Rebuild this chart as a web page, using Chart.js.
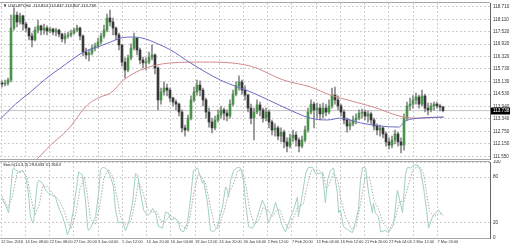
<!DOCTYPE html>
<html>
<head>
<meta charset="utf-8">
<script src="https://cdn.jsdelivr.net/npm/chart.js@4.4.0/dist/chart.umd.min.js"></script>
<style>
  html, body { margin: 0; padding: 0; background: #fff; width: 510px; height: 247px; overflow: hidden; }
  canvas { position: absolute; left: 0; }
  #main { top: 0; }
  #stoch { top: 160px; }
</style>
</head>
<body>
<canvas id="main" width="510" height="160"></canvas>
<canvas id="stoch" width="510" height="87"></canvas>
<script>
// ---- data ----
const symbolTitle = '\u25BC USDJPY,H4  113.824 113.847 113.807 113.738';
const stochTitle = 'Stoch(14,3,3) 29.6433 31.9163';
const timeLabels = ['12 Dec 2016', '14 Dec 08:00', '22 Dec 08:00', '27 Dec 20:00', '3 Jan 04:00',
  '5 Jan 12:00', '10 Jan 20:00', '16 Jan 04:00', '19 Jan 12:00', '24 Jan 20:00', '30 Jan 04:00',
  '2 Feb 12:00', '7 Feb 20:00', '13 Feb 04:00', '16 Feb 12:00', '21 Feb 20:00', '27 Feb 04:00',
  '2 Mar 12:00', '7 Mar 20:00'];
const priceTicks = [118.710, 118.110, 117.520, 116.920, 116.320, 115.730, 115.130,
  114.530, 113.940, 113.340, 112.750, 112.150, 111.550];
const stochTicks = [0, 20, 80, 100];
const lastPrice = 113.738;

const opens = [
  115.06, 115.01, 115.06, 115.20, 117.69, 118.31, 117.98, 118.27, 117.88, 117.69,
  117.31, 117.12, 117.59, 117.79, 117.59, 117.69, 117.55, 117.64, 117.50, 117.59,
  117.40, 117.17, 117.31, 117.36, 117.45, 117.59, 117.69, 117.31, 116.54, 116.40,
  116.49, 116.73, 116.83, 117.02, 117.31, 117.59, 118.17, 117.98, 117.69, 117.36,
  116.88, 116.06, 115.68, 116.26, 116.73, 117.21, 116.64, 116.16, 116.02, 116.06,
  116.30, 116.40, 115.78, 114.25, 114.63, 114.82, 114.72, 114.34, 114.15, 114.05,
  113.67, 112.91, 112.81, 113.38, 114.25, 114.63, 114.96, 114.72, 114.25, 113.67,
  113.19, 112.91, 113.29, 113.53, 113.77, 113.62, 113.48, 114.05, 114.53, 114.92,
  115.11, 114.72, 114.48, 113.86, 113.38, 113.67, 114.01, 113.77, 113.38, 113.67,
  113.19, 112.81, 112.91, 112.52, 112.71, 112.24, 112.04, 112.43, 112.57, 112.33,
  112.04, 112.33, 112.81, 113.67, 114.05, 113.77, 113.86, 113.58, 113.86, 113.67,
  113.96, 114.48, 114.25, 113.96, 113.67, 113.29, 113.00, 113.10, 113.29, 113.38,
  113.62, 113.67, 113.48, 113.58, 113.29, 113.00, 112.81, 112.91, 112.62, 112.24,
  112.09, 112.33, 112.62, 112.24, 112.09, 113.38, 113.96, 114.05, 114.25, 114.39,
  114.05, 114.44, 113.86, 113.77, 113.96, 114.05, 113.96, 113.91];
const highs = [
  115.16, 115.20, 115.30, 118.31, 118.65, 118.46, 118.41, 118.31, 117.98, 117.69,
  117.45, 117.74, 118.07, 117.83, 117.88, 117.79, 117.74, 117.69, 117.69, 117.64,
  117.45, 117.45, 117.50, 117.59, 117.69, 117.83, 117.74, 117.36, 116.73, 116.64,
  116.88, 116.97, 117.21, 117.45, 117.83, 118.36, 118.55, 118.17, 117.74, 117.45,
  116.88, 116.26, 116.40, 116.93, 117.45, 117.21, 116.73, 116.30, 116.26, 116.54,
  116.88, 116.45, 115.83, 114.82, 115.11, 115.01, 114.82, 114.39, 114.25, 114.10,
  113.77, 113.05, 113.53, 114.44, 114.87, 115.20, 115.16, 114.82, 114.34, 113.86,
  113.38, 113.48, 113.77, 113.96, 113.86, 113.77, 114.25, 114.72, 115.11, 115.40,
  115.20, 114.92, 114.53, 114.05, 113.86, 114.25, 114.15, 113.86, 113.86, 113.77,
  113.29, 113.10, 113.00, 112.91, 112.81, 112.43, 112.62, 112.81, 112.71, 112.43,
  112.52, 113.00, 113.86, 114.25, 114.15, 114.10, 114.05, 114.10, 114.05, 114.25,
  114.82, 114.87, 114.44, 114.05, 113.77, 113.38, 113.29, 113.48, 113.58, 113.77,
  113.81, 113.77, 113.72, 113.67, 113.38, 113.10, 113.05, 112.95, 112.71, 112.43,
  112.52, 112.81, 112.71, 112.43, 113.58, 114.15, 114.34, 114.44, 114.58, 114.48,
  114.72, 114.53, 114.10, 114.10, 114.15, 114.15, 114.05, 113.96];
const lows = [
  114.87, 114.92, 114.96, 115.11, 117.59, 117.74, 117.88, 117.59, 117.50, 117.12,
  116.78, 117.07, 117.45, 117.36, 117.40, 117.36, 117.45, 117.36, 117.31, 117.26,
  117.02, 116.97, 117.21, 117.26, 117.40, 117.50, 117.12, 116.35, 116.21, 116.11,
  116.40, 116.59, 116.73, 116.93, 117.21, 117.50, 117.79, 117.36, 117.12, 116.64,
  115.87, 115.30, 115.59, 116.16, 116.64, 116.40, 115.97, 115.78, 115.68, 115.97,
  116.16, 115.49, 113.77, 114.05, 114.48, 114.44, 114.15, 113.96, 113.77, 113.48,
  112.71, 112.52, 112.76, 113.29, 114.15, 114.48, 114.44, 113.96, 113.38, 112.95,
  112.67, 112.81, 113.19, 113.38, 113.29, 113.24, 113.38, 113.96, 114.44, 114.72,
  114.53, 114.25, 113.67, 113.10, 112.33, 113.58, 113.48, 113.19, 113.24, 112.91,
  112.57, 112.52, 112.33, 112.24, 111.95, 111.76, 111.95, 112.24, 112.04, 111.76,
  111.95, 112.24, 112.71, 113.58, 112.91, 113.38, 113.29, 113.38, 113.48, 113.58,
  113.86, 114.05, 113.77, 113.48, 113.10, 112.71, 112.81, 113.00, 113.10, 113.29,
  113.38, 113.29, 113.19, 113.10, 112.81, 112.57, 112.52, 112.43, 112.04, 111.90,
  111.95, 112.14, 112.04, 111.71, 111.85, 113.29, 113.77, 113.86, 114.05, 113.86,
  113.96, 113.67, 113.53, 113.67, 113.77, 113.86, 113.72, 113.67];
const closes = [
  115.01, 115.06, 115.20, 117.69, 118.31, 117.98, 118.27, 117.88, 117.69, 117.31,
  117.12, 117.59, 117.79, 117.59, 117.69, 117.55, 117.64, 117.50, 117.59, 117.40,
  117.17, 117.31, 117.36, 117.45, 117.59, 117.69, 117.31, 116.54, 116.40, 116.49,
  116.73, 116.83, 117.02, 117.31, 117.59, 118.17, 117.98, 117.69, 117.36, 116.88,
  116.06, 115.68, 116.26, 116.73, 117.21, 116.64, 116.16, 116.02, 116.06, 116.30,
  116.40, 115.78, 114.25, 114.63, 114.82, 114.72, 114.34, 114.15, 114.05, 113.67,
  112.91, 112.81, 113.38, 114.25, 114.63, 114.96, 114.72, 114.25, 113.67, 113.19,
  112.91, 113.29, 113.53, 113.77, 113.62, 113.48, 114.05, 114.53, 114.92, 115.11,
  114.72, 114.48, 113.86, 113.38, 113.67, 114.01, 113.77, 113.38, 113.67, 113.19,
  112.81, 112.91, 112.52, 112.71, 112.24, 112.04, 112.43, 112.57, 112.33, 112.04,
  112.33, 112.81, 113.67, 114.05, 113.77, 113.86, 113.58, 113.86, 113.67, 113.96,
  114.48, 114.25, 113.96, 113.67, 113.29, 113.00, 113.10, 113.29, 113.38, 113.62,
  113.67, 113.48, 113.58, 113.29, 113.00, 112.81, 112.91, 112.62, 112.24, 112.09,
  112.33, 112.62, 112.24, 112.09, 113.38, 113.96, 114.05, 114.25, 114.39, 114.05,
  114.44, 113.86, 113.77, 113.96, 114.05, 113.96, 113.91, 113.738];

// moving averages, [bar, price]
const maBlue = [[-0.5, 113.34], [4.5, 114.05], [9.5, 114.63], [14.5, 115.25], [19.5, 115.78],
  [27.2, 116.54], [32.8, 116.83], [36.2, 117.02], [39.5, 117.21], [43.8, 117.26], [47.8, 117.17],
  [50.5, 117.02], [56.2, 116.64], [62.8, 116.02], [72.8, 115.20], [83.8, 114.58], [93.8, 113.91],
  [102.8, 113.38], [108.5, 113.29], [112.8, 113.38], [119.5, 113.15], [126.2, 113.00],
  [132.2, 112.95], [134.5, 113.24], [139.5, 113.38], [147.2, 113.43]];
const maRed = [[9.5, 111.09], [16.2, 112.09], [21.8, 112.81], [28.5, 114.01], [32.8, 114.39],
  [36.2, 114.58], [40.5, 115.20], [46.2, 115.68], [56.2, 116.02], [67.2, 116.06], [82.8, 115.87],
  [93.8, 115.20], [102.8, 114.87], [109.5, 114.48], [112.8, 114.34], [123.8, 113.91],
  [133.8, 113.43], [139.5, 113.38], [147.2, 113.43]];

// stochastic, [bar, value]
const stochMain = [[0,52],[1.2,43],[2.2,33],[3.5,89],[3.8,92],[5.5,87],[6.8,89],[7.8,83],[8.8,59],
  [9.5,28],[10.2,20],[10.5,20],[11.2,50],[11.8,72],[12.2,76],[13.5,72],[14.5,63],[15.5,59],[16.8,56],
  [17.8,54],[18.8,41],[20.2,28],[21.2,15],[21.8,4],[22.8,15],[23.8,37],[25.2,76],[25.5,87],[26.8,83],
  [27.8,50],[28.5,15],[28.8,10],[29.5,13],[31.2,28],[32.2,59],[32.8,89],[33.5,93],[34.5,92],[35.2,89],
  [36.2,80],[37.2,67],[37.8,37],[38.8,20],[40.2,21],[41.2,10],[42.2,20],[43.5,46],[44.5,85],[45.2,83],
  [46.2,59],[47.2,37],[48.5,30],[49.5,33],[50.2,39],[51.2,33],[52.2,15],[53.5,13],[54.5,34],[55.5,33],
  [56.2,24],[57.8,26],[58.8,21],[59.5,10],[60.5,8],[61.8,20],[62.8,50],[63.8,89],[65.2,92],[66.2,80],
  [66.8,72],[67.2,76],[68.5,46],[69.5,10],[70.5,8],[71.8,15],[73.5,41],[74.5,67],[75.2,63],[75.5,54],
  [76.2,76],[77.2,89],[78.5,93],[79.5,92],[80.5,76],[81.2,46],[82.2,15],[83.5,13],[84.5,20],[85.5,33],
  [86.8,50],[87.8,41],[88.8,20],[90.2,33],[91.2,47],[92.2,33],[93.5,15],[94.5,8],[95.5,20],[96.8,33],
  [97.2,37],[98.5,54],[98.8,28],[100.2,59],[101.2,85],[102.2,93],[103.5,93],[104.5,85],[105.5,85],
  [106.8,85],[107.8,46],[108.5,76],[109.5,89],[110.5,92],[111.8,59],[112.2,33],[112.8,37],[113.8,15],
  [115.5,10],[116.8,7],[117.8,21],[118.8,37],[119.5,76],[120.2,93],[121.2,92],[122.2,59],[123.5,33],
  [123.8,46],[124.5,33],[125.5,28],[126.2,8],[127.8,10],[128.8,7],[130.5,17],[131.8,63],[132.8,46],
  [133.5,33],[134.5,85],[135.2,93],[136.2,92],[137.2,96],[138.5,96],[139.5,89],[140.5,67],[141.5,37],
  [142.2,13],[143.5,28],[144.5,33],[145.5,37],[146.2,33],[147,29.6]];
const stochSignal = [[0,55],[2,40],[3.5,55],[5,85],[7,88],[8.5,78],[9.5,55],[11,30],[12.5,45],[13.5,68],
  [15,68],[17,58],[19,50],[20.5,38],[22,20],[23,12],[24.5,30],[26,65],[27.5,80],[28.5,55],[29.5,25],
  [31,18],[32.5,40],[34,80],[35.5,90],[37,80],[38.5,50],[39.5,28],[41,18],[43,22],[44.5,50],[45.5,75],
  [47,60],[48.5,38],[50,34],[51.5,35],[53,22],[54.5,22],[56,30],[58,25],[60,16],[61.5,12],[62.5,25],
  [64,60],[65.5,85],[67,78],[68,70],[69.5,40],[71,15],[72,12],[74,35],[75.5,58],[77,70],[78.5,88],
  [80,90],[81.5,65],[82.5,38],[84,18],[85.5,22],[87,40],[88.5,38],[90,28],[91.5,36],[92.5,38],[94,22],
  [95.5,12],[97,25],[98.5,40],[100.5,45],[101.5,65],[103,88],[105,90],[107,86],[108,65],[109,70],
  [110.5,85],[112,75],[113,50],[114.5,28],[116.5,12],[118,15],[119.5,45],[121,80],[122.5,80],[124,50],
  [125.5,38],[127,20],[129,10],[131,25],[132.5,48],[134,48],[135.5,70],[137,90],[139,95],[140.5,85],
  [141.5,60],[142.5,35],[144,28],[145.5,32],[147,31.9]];

// ---- layout / style ----
const X_MIN = -0.667, X_MAX = 162.667;
const LABEL_START = -0.333, LABEL_STEP = 8.0833;
const GRID = '#cdcdcd';
const TEXT = '#333';
const BULL = '#4a944a', BEAR = '#383838', WICK = '#8a8a8a';

Chart.defaults.font.family = "'Liberation Sans', Arial, sans-serif";
Chart.defaults.color = TEXT;
Chart.defaults.animation = false;

const toXY = pts => pts.map(([x, y]) => ({ x, y }));

function timeAxis(showLabels) {
  return {
    type: 'linear', min: X_MIN, max: X_MAX, offset: false,
    grid: { color: GRID, drawTicks: false, offset: false },
    border: { display: false, dash: [2, 2] },
    ticks: {
      display: showLabels, autoSkip: false, maxRotation: 0, minRotation: 0, align: 'start',
      padding: 2, font: { size: 3.9 }, color: TEXT,
      callback: (v, i) => timeLabels[i]
    },
    afterBuildTicks: s => { s.ticks = timeLabels.map((_, k) => ({ value: LABEL_START + k * LABEL_STEP })); },
    afterFit: s => { s.height = showLabels ? 9 : 0; s.paddingLeft = 0; s.paddingRight = 0; }
  };
}

function valueAxis(min, max, ticks, fmt) {
  return {
    position: 'right', min, max, beginAtZero: false,
    grid: { color: GRID, drawTicks: false },
    border: { display: true, color: '#666', dash: [2, 2] },
    ticks: { padding: 3, font: { size: 4.6 }, color: TEXT, callback: fmt },
    afterBuildTicks: s => { s.ticks = ticks.map(v => ({ value: v })); },
    afterFit: s => { s.width = 20; s.paddingTop = 0; s.paddingBottom = 0; }
  };
}

function panelDecor(title, priceBox) {
  return {
    id: 'panelDecor',
    afterDraw(chart) {
      const { ctx, chartArea: a } = chart;
      ctx.save();
      ctx.strokeStyle = '#a8a8a8';
      ctx.lineWidth = 1;
      ctx.beginPath();
      ctx.moveTo(a.left, a.top - 0.5); ctx.lineTo(a.right, a.top - 0.5);
      ctx.moveTo(a.left, a.bottom + 0.5); ctx.lineTo(a.right, a.bottom + 0.5);
      ctx.stroke();
      ctx.fillStyle = '#222';
      ctx.font = "4.2px 'Liberation Sans', 'DejaVu Sans', sans-serif";
      ctx.textBaseline = 'middle';
      ctx.textAlign = 'left';
      ctx.fillText(title, 3, a.top + 3);
      if (priceBox) {
        const y = chart.scales.y.getPixelForValue(lastPrice);
        ctx.fillStyle = '#000';
        ctx.fillRect(a.right + 1, Math.round(y) - 3.5, 19, 7);
        ctx.fillStyle = '#fff';
        ctx.font = "4.6px 'Liberation Sans', sans-serif";
        ctx.fillText(lastPrice.toFixed(3), a.right + 3, Math.round(y));
      }
      ctx.restore();
    }
  };
}

const common = {
  responsive: false, maintainAspectRatio: false, devicePixelRatio: 1, events: [],
  plugins: { legend: { display: false }, tooltip: { enabled: false } }
};

// ---- price panel ----
new Chart(document.getElementById('main'), {
  type: 'bar',
  data: {
    datasets: [
      { type: 'line', data: toXY(maBlue), borderColor: '#6b6bc2', borderWidth: 1, pointRadius: 0,
        cubicInterpolationMode: 'monotone', order: 0 },
      { type: 'line', data: toXY(maRed), borderColor: '#d38a8a', borderWidth: 1, pointRadius: 0,
        cubicInterpolationMode: 'monotone', order: 0 },
      { data: closes.map((c, i) => ({ x: i, y: [opens[i], c] })),
        backgroundColor: closes.map((c, i) => c >= opens[i] ? BULL : BEAR),
        barThickness: 2, grouped: false, minBarLength: 1, borderWidth: 0, order: 2 },
      { data: highs.map((h, i) => ({ x: i, y: [lows[i], h] })),
        backgroundColor: WICK, barThickness: 1, grouped: false, borderWidth: 0, order: 3 },
      { type: 'line', data: [{ x: X_MIN, y: lastPrice }, { x: X_MAX, y: lastPrice }],
        borderColor: '#c4c4c4', borderWidth: 1, pointRadius: 0, order: 4 }
    ]
  },
  options: {
    ...common,
    layout: { padding: { top: 3, bottom: 1, left: 0, right: 0 } },
    scales: {
      x: timeAxis(false),
      y: valueAxis(111.423, 118.887, priceTicks, v => v.toFixed(3))
    }
  },
  plugins: [panelDecor(symbolTitle, true)]
});

// ---- stochastic panel ----
new Chart(document.getElementById('stoch'), {
  type: 'line',
  data: {
    datasets: [
      { data: toXY(stochMain), borderColor: '#a2cfc5', borderWidth: 1, pointRadius: 0, tension: 0 },
      { data: toXY(stochSignal), borderColor: '#ababab', borderWidth: 1, borderDash: [1.5, 1.5],
        pointRadius: 0, tension: 0 }
    ]
  },
  options: {
    ...common,
    layout: { padding: { top: 2, bottom: 0, left: 0, right: 0 } },
    scales: {
      x: timeAxis(true),
      y: valueAxis(0, 100, stochTicks, v => String(v))
    }
  },
  plugins: [panelDecor(stochTitle, false)]
});
</script>
</body>
</html>
